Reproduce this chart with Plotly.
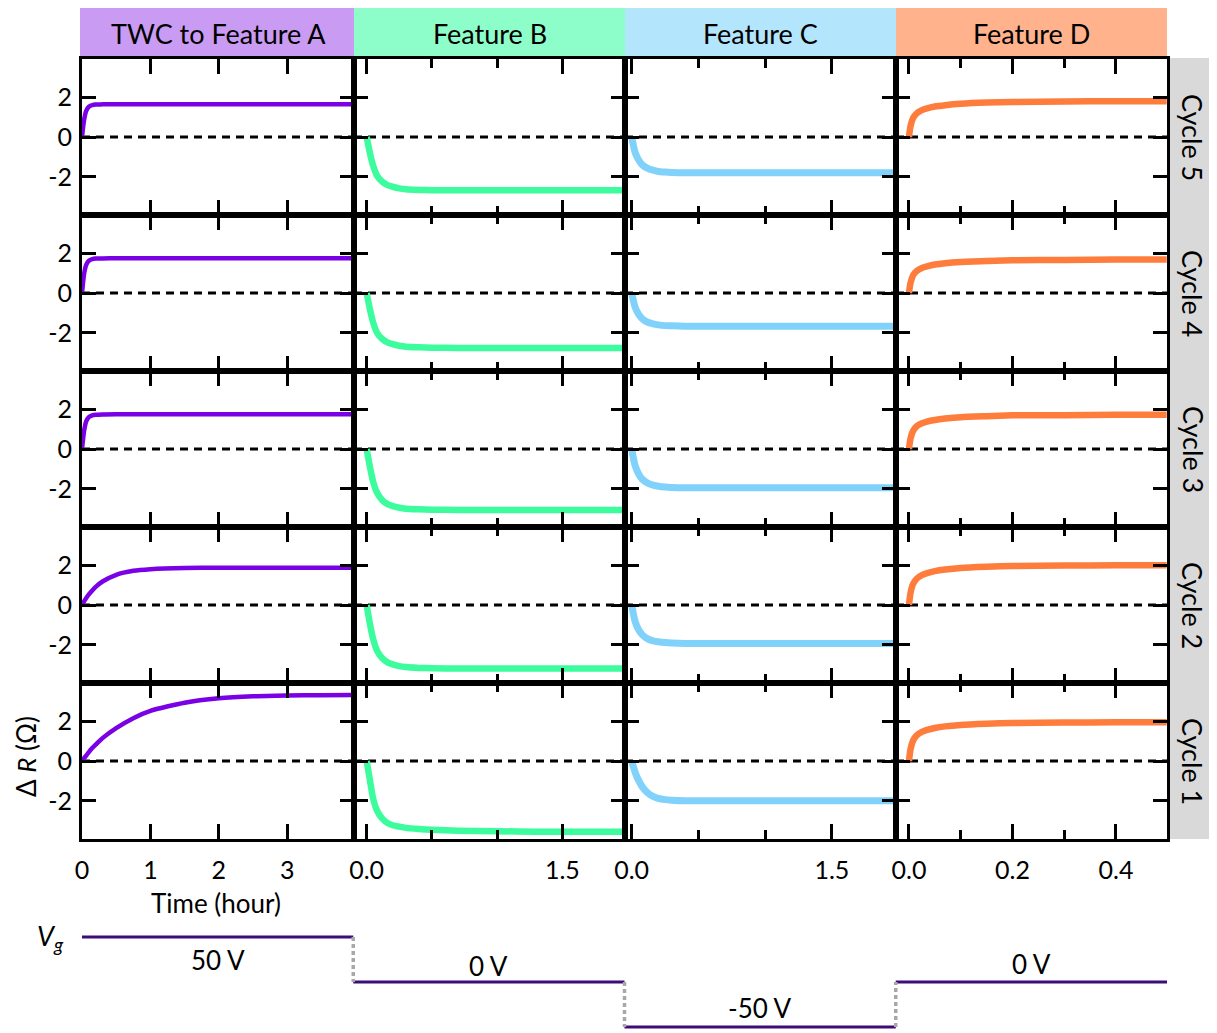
import plotly.graph_objects as go

# The page places the figure 8px from the top-left corner (default body margin),
# so the figure is sized to fill the rest of the 1217x1033 window.
OFFSET = 8
W, H = 1217 - OFFSET, 1033 - OFFSET

# ---------------- data ----------------
column_titles = ["TWC to Feature A", "Feature B", "Feature C", "Feature D"]
cycle_labels = ["Cycle 5", "Cycle 4", "Cycle 3", "Cycle 2", "Cycle 1"]

# Column A: TWC to Feature A (time in hours)
t_a = [0, 0.03, 0.06, 0.1, 0.15, 0.2, 0.3, 0.5, 0.75, 1.0, 1.5, 2.0, 2.5, 3.0, 3.5, 3.95]
a_cycle5 = [0, 0.85, 1.3, 1.52, 1.6, 1.63, 1.64, 1.65, 1.65, 1.65, 1.65, 1.65, 1.65, 1.65, 1.65, 1.65]
a_cycle4 = [0, 0.95, 1.4, 1.62, 1.7, 1.73, 1.74, 1.75, 1.75, 1.75, 1.75, 1.75, 1.75, 1.75, 1.75, 1.75]
a_cycle3 = [0, 0.9, 1.38, 1.6, 1.69, 1.72, 1.74, 1.75, 1.75, 1.75, 1.75, 1.75, 1.75, 1.75, 1.75, 1.75]
a_cycle2 = [0, 0.18, 0.34, 0.53, 0.73, 0.91, 1.18, 1.52, 1.72, 1.80, 1.86, 1.87, 1.87, 1.87, 1.87, 1.87]
a_cycle1 = [0, 0.14, 0.27, 0.45, 0.65, 0.82, 1.15, 1.65, 2.15, 2.52, 2.93, 3.15, 3.25, 3.29, 3.31, 3.32]

# Column B: Feature B
t_b = [0, 0.025, 0.05, 0.08, 0.12, 0.16, 0.2, 0.25, 0.3, 0.4, 0.5, 0.7, 1.0, 1.3, 1.6, 1.98]
b_cycle5 = [0, -0.8, -1.45, -1.95, -2.25, -2.42, -2.5, -2.58, -2.63, -2.66, -2.67, -2.68, -2.68, -2.68, -2.68, -2.68]
b_cycle4 = [0, -0.82, -1.49, -2.0, -2.31, -2.48, -2.57, -2.65, -2.7, -2.73, -2.75, -2.76, -2.76, -2.76, -2.76, -2.76]
b_cycle3 = [0, -0.9, -1.65, -2.2, -2.57, -2.77, -2.87, -2.95, -3.0, -3.03, -3.05, -3.06, -3.06, -3.06, -3.06, -3.06]
b_cycle2 = [0, -0.95, -1.72, -2.3, -2.68, -2.88, -2.98, -3.07, -3.12, -3.16, -3.18, -3.19, -3.19, -3.19, -3.19, -3.19]
b_cycle1 = [0, -0.97, -1.9, -2.5, -2.9, -3.12, -3.23, -3.3, -3.36, -3.42, -3.46, -3.5, -3.53, -3.55, -3.55, -3.55]

# Column C: Feature C
t_c = [0, 0.025, 0.05, 0.08, 0.12, 0.16, 0.2, 0.25, 0.3, 0.4, 0.5, 0.7, 1.0, 1.3, 1.6, 1.96]
c_cycle5 = [0, -0.76, -1.13, -1.4, -1.58, -1.67, -1.73, -1.76, -1.78, -1.8, -1.8, -1.8, -1.8, -1.8, -1.8, -1.8]
c_cycle4 = [0, -0.7, -1.05, -1.3, -1.47, -1.55, -1.6, -1.64, -1.65, -1.67, -1.67, -1.67, -1.67, -1.67, -1.67, -1.67]
c_cycle3 = [0, -0.82, -1.23, -1.52, -1.72, -1.81, -1.87, -1.91, -1.93, -1.95, -1.95, -1.95, -1.95, -1.95, -1.95, -1.95]
c_cycle2 = [0, -0.81, -1.22, -1.5, -1.7, -1.8, -1.85, -1.89, -1.91, -1.93, -1.93, -1.93, -1.93, -1.93, -1.93, -1.93]
c_cycle1 = [0, -0.55, -0.95, -1.3, -1.6, -1.78, -1.88, -1.94, -1.97, -2.0, -2.0, -2.0, -2.0, -2.0, -2.0, -2.0]

# Column D: Feature D
t_d = [0, 0.003, 0.008, 0.015, 0.025, 0.035, 0.05, 0.07, 0.1, 0.15, 0.2, 0.3, 0.4, 0.498]
d_cycle5 = [0, 0.54, 0.95, 1.19, 1.35, 1.44, 1.53, 1.6, 1.67, 1.73, 1.76, 1.78, 1.8, 1.8]
d_cycle4 = [0, 0.5, 0.89, 1.11, 1.26, 1.34, 1.43, 1.5, 1.56, 1.61, 1.65, 1.66, 1.68, 1.68]
d_cycle3 = [0, 0.52, 0.91, 1.14, 1.29, 1.38, 1.46, 1.53, 1.6, 1.65, 1.69, 1.7, 1.72, 1.72]
d_cycle2 = [0, 0.6, 1.06, 1.32, 1.5, 1.6, 1.7, 1.78, 1.86, 1.92, 1.96, 1.98, 2.0, 2.0]
d_cycle1 = [0, 0.58, 1.03, 1.29, 1.46, 1.56, 1.66, 1.74, 1.81, 1.87, 1.91, 1.93, 1.95, 1.95]

# x-axis tick labels per column
x_major_ticks = [[0, 1, 2, 3], [0, 1.5], [0, 1.5], [0, 0.2, 0.4]]
x_tick_text = [["0", "1", "2", "3"], ["0.0", "1.5"], ["0.0", "1.5"], ["0.0", "0.2", "0.4"]]
x_minor_ticks = [[], [0.5, 1.0], [0.5, 1.0], [0.1, 0.3]]
y_ticks = [-2, 0, 2]
y_tick_text = ["-2", "0", "2"]

# Gate voltage sequence
vg_values = [50, 0, -50, 0]
vg_labels = ["50 V", "0 V", "-50 V", "0 V"]

# ---------------- style / layout ----------------
FONT = "Lato"
header_colors = ["#C99BF2", "#8DFEC9", "#B3E5FC", "#FFB28C"]
line_colors = ["#7A00E6", "#3DFC9E", "#80D2FA", "#FF7D3C"]
line_widths = [4.5, 6.5, 7, 6.5]
x_ranges = [[0, 3.975], [-0.097, 1.98], [-0.05, 1.98], [-0.025, 0.4986]]
y_range = [-3.92, 3.92]
col_edges = [82, 354, 625, 896, 1167]
row_edges = [59, 215, 371, 527, 683, 839]

times = [t_a, t_b, t_c, t_d]
series = [
    [a_cycle5, a_cycle4, a_cycle3, a_cycle2, a_cycle1],
    [b_cycle5, b_cycle4, b_cycle3, b_cycle2, b_cycle1],
    [c_cycle5, c_cycle4, c_cycle3, c_cycle2, c_cycle1],
    [d_cycle5, d_cycle4, d_cycle3, d_cycle2, d_cycle1],
]


def px(x):
    return (x - OFFSET) / W


def py(y):
    return 1 - (y - OFFSET) / H


def note(x, y, text, size=26, angle=0, **kw):
    d = dict(xref="paper", yref="paper", x=x, y=y, text=text, showarrow=False,
             xanchor="center", yanchor="middle", textangle=angle,
             font=dict(family=FONT, size=size, color="black"))
    d.update(kw)
    return d


fig = go.Figure()
layout = {}
shapes = []
annotations = []

for r in range(5):
    for c in range(4):
        k = r * 4 + c + 1
        xn = "x" if k == 1 else f"x{k}"
        yn = "y" if k == 1 else f"y{k}"
        xa = "xaxis" if k == 1 else f"xaxis{k}"
        ya = "yaxis" if k == 1 else f"yaxis{k}"
        bottom = r == 4
        left = c == 0
        xaxis = dict(
            domain=[px(col_edges[c]), px(col_edges[c + 1])],
            range=x_ranges[c], anchor=yn, automargin=False,
            showline=True, linecolor="black", linewidth=3, mirror="ticks",
            ticks="inside", ticklen=15, tickwidth=3, tickcolor="black",
            tickmode="array", tickvals=x_major_ticks[c], ticktext=x_tick_text[c],
            showticklabels=bottom, ticklabelstandoff=7,
            tickfont=dict(family=FONT, size=25, color="black"),
            showgrid=False, zeroline=False, fixedrange=True,
        )
        if x_minor_ticks[c]:
            xaxis["minor"] = dict(tickmode="array", tickvals=x_minor_ticks[c], ticks="inside",
                                  ticklen=9, tickwidth=3, tickcolor="black", showgrid=False)
        layout[xa] = xaxis
        layout[ya] = dict(
            domain=[py(row_edges[r + 1]), py(row_edges[r])],
            range=y_range, anchor=xn, automargin=False,
            showline=True, linecolor="black", linewidth=3, mirror="ticks",
            ticks="inside", ticklen=14, tickwidth=3, tickcolor="black",
            tickmode="array", tickvals=y_ticks, ticktext=y_tick_text,
            showticklabels=left, ticklabelstandoff=2,
            tickfont=dict(family=FONT, size=25, color="black"),
            showgrid=False, zeroline=False, fixedrange=True,
        )
        shapes.append(dict(type="line", xref=f"{xn} domain", yref=yn,
                           x0=0, x1=1, y0=0, y1=0, layer="below",
                           line=dict(color="black", width=3, dash="8px,6px")))
        fig.add_trace(go.Scatter(
            x=times[c], y=series[c][r], xaxis=xn, yaxis=yn, mode="lines",
            line=dict(color=line_colors[c], width=line_widths[c],
                      shape="spline", smoothing=0.6),
            showlegend=False, hoverinfo="skip"))

# Column headers
header_x0 = [80, 354, 625, 896]
for c in range(4):
    shapes.append(dict(type="rect", xref="paper", yref="paper",
                       x0=px(header_x0[c]), x1=px(col_edges[c + 1]),
                       y0=py(58), y1=1, fillcolor=header_colors[c],
                       line=dict(width=0), layer="below"))
    annotations.append(note(px((col_edges[c] + col_edges[c + 1]) / 2), py(33),
                            column_titles[c], size=27))

# Right gray strip with cycle labels
shapes.append(dict(type="rect", xref="paper", yref="paper",
                   x0=px(1168), x1=1, y0=py(839), y1=py(58),
                   fillcolor="#D9D9D9", line=dict(width=0), layer="below"))
for r in range(5):
    annotations.append(note(px(1193), py((row_edges[r] + row_edges[r + 1]) / 2),
                            cycle_labels[r], size=27, angle=90))

# Axis titles
annotations.append(note(px(26), py(757), "Δ <i>R</i> (Ω)", size=26, angle=-90))
annotations.append(note(px(216), py(903), "Time (hour)", size=26))

# Gate voltage panel
layout["xaxis21"] = dict(domain=[px(82), px(1167)], range=[0, 4], anchor="y21",
                         visible=False, fixedrange=True, automargin=False)
layout["yaxis21"] = dict(domain=[0, py(920)], range=[-56.7, 68.9], anchor="x21",
                         visible=False, fixedrange=True, automargin=False)
vg_label_shift = [-23, 16, 19, 18]
for i, v in enumerate(vg_values):
    fig.add_trace(go.Scatter(x=[i, i + 1], y=[v, v], xaxis="x21", yaxis="y21",
                             mode="lines", line=dict(color="#3C0C78", width=3),
                             showlegend=False, hoverinfo="skip", cliponaxis=False))
    if i > 0:
        fig.add_trace(go.Scatter(x=[i, i], y=[vg_values[i - 1], v], xaxis="x21", yaxis="y21",
                                 mode="lines", line=dict(color="#A8A8A8", width=3.5, dash="4px,3px"),
                                 showlegend=False, hoverinfo="skip", cliponaxis=False))
    annotations.append(dict(xref="x21", yref="y21", x=i + 0.5, y=v,
                            xanchor="center", yanchor="middle",
                            yshift=vg_label_shift[i], text=vg_labels[i], showarrow=False,
                            font=dict(family=FONT, size=26, color="black")))
annotations.append(note(px(50), py(937), "<i>V<sub>g</sub></i>", size=27))

fig.update_layout(
    width=W, height=H, autosize=False,
    margin=dict(l=0, r=0, t=0, b=0, pad=0),
    paper_bgcolor="white", plot_bgcolor="white",
    showlegend=False,
    shapes=shapes, annotations=annotations,
    **layout,
)

fig.write_html("out.html")
